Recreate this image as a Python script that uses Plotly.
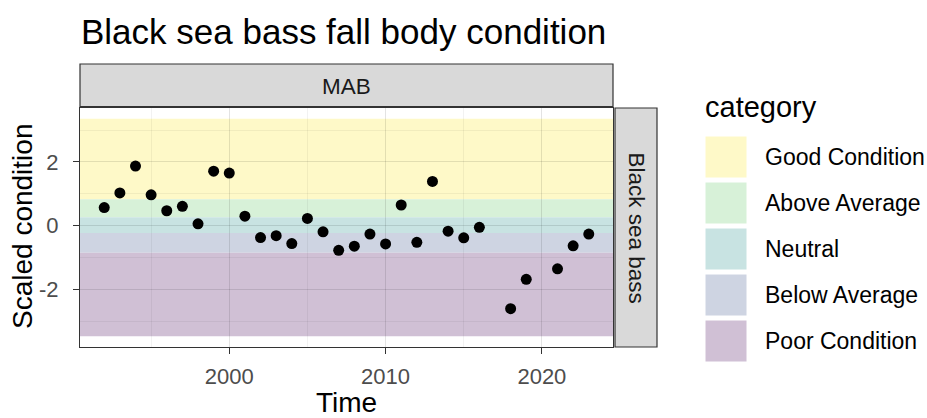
import plotly.graph_objects as go

# ---- data ----
years = [1992, 1993, 1994, 1995, 1996, 1997, 1998, 1999, 2000, 2001, 2002, 2003,
         2004, 2005, 2006, 2007, 2008, 2009, 2010, 2011, 2012, 2013, 2014, 2015,
         2016, 2018, 2019, 2021, 2022, 2023]
condition = [0.57, 1.03, 1.87, 0.97, 0.47, 0.61, 0.06, 1.71, 1.65, 0.30, -0.37, -0.31,
             -0.56, 0.23, -0.19, -0.77, -0.64, -0.26, -0.57, 0.65, -0.52, 1.39, -0.17, -0.38,
             -0.05, -2.60, -1.68, -1.35, -0.63, -0.26]

categories = ["Good Condition", "Above Average", "Neutral", "Below Average", "Poor Condition"]
band_upper = [3.35, 0.83, 0.27, -0.23, -0.85]
band_lower = [0.83, 0.27, -0.23, -0.85, -3.46]
band_colors = ["#FEF9C8", "#D7F1D8", "#C8E3E2", "#CED4E2", "#D0C0D5"]

x_ticks = [2000, 2010, 2020]
y_ticks = [-2, 0, 2]

# ---- layout geometry (pixels) ----
W, H = 927, 418
PL, PR, PT, PB = 80, 613, 108, 347  # panel edges


def px(x):
    return (x - PL) / (PR - PL)


def py(y):
    return (PB - y) / (PB - PT)


FONT = "Liberation Sans, Arial, Helvetica, sans-serif"

fig = go.Figure()
fig.add_trace(go.Scatter(
    x=years, y=condition, mode="markers",
    marker=dict(color="black", size=11),
    showlegend=False, hoverinfo="x+y"))

shapes = []
# condition bands across the panel
for lo, hi, c in zip(band_lower, band_upper, band_colors):
    shapes.append(dict(type="rect", xref="x domain", yref="y", x0=0, x1=1, y0=lo, y1=hi,
                       fillcolor=c, line=dict(width=0), layer="below"))

# strips
shapes.append(dict(type="rect", xref="paper", yref="paper", x0=0, x1=1,
                   y0=py(106.5), y1=py(64), fillcolor="#D9D9D9",
                   line=dict(color="#333333", width=1.2), layer="above"))
shapes.append(dict(type="rect", xref="paper", yref="paper", x0=px(615), x1=px(657),
                   y0=0, y1=1, fillcolor="#D9D9D9",
                   line=dict(color="#333333", width=1.2), layer="above"))

annotations = [
    dict(text="Black sea bass fall body condition", xref="paper", yref="paper",
         x=px(79), y=py(31), xanchor="left", yanchor="middle", showarrow=False,
         font=dict(size=35, color="black", family=FONT)),
    dict(text="MAB", xref="paper", yref="paper", x=0.5, y=py(86), xanchor="center",
         yanchor="middle", showarrow=False, font=dict(size=22.5, color="#1A1A1A", family=FONT)),
    dict(text="Black sea bass", xref="paper", yref="paper", x=px(636), y=0.5,
         xanchor="center", yanchor="middle", textangle=90, showarrow=False,
         font=dict(size=22.5, color="#1A1A1A", family=FONT)),
    dict(text="Time", xref="paper", yref="paper", x=0.5, y=py(402), xanchor="center",
         yanchor="middle", showarrow=False, font=dict(size=28, color="black", family=FONT)),
    dict(text="Scaled condition", xref="paper", yref="paper", x=px(22), y=py(227),
         xanchor="center", yanchor="middle", textangle=-90, showarrow=False,
         font=dict(size=28, color="black", family=FONT)),
    dict(text="category", xref="paper", yref="paper", x=px(703), y=py(107), xanchor="left",
         yanchor="middle", showarrow=False, font=dict(size=29, color="black", family=FONT)),
]

# manual legend
key_top = 136
key_h = 42
key_step = 46
for i, (cat, col) in enumerate(zip(categories, band_colors)):
    t = key_top + i * key_step
    shapes.append(dict(type="rect", xref="paper", yref="paper", x0=px(705), x1=px(747),
                       y0=py(t + key_h), y1=py(t), fillcolor=col,
                       line=dict(color="white", width=1), layer="above"))
    annotations.append(dict(text=cat, xref="paper", yref="paper", x=px(763),
                            y=py(t + key_h / 2), xanchor="left", yanchor="middle",
                            showarrow=False, font=dict(size=23, color="black", family=FONT)))

fig.update_layout(
    width=W, height=H,
    margin=dict(l=PL, r=W - PR, t=PT, b=H - PB, pad=0),
    plot_bgcolor="rgba(0,0,0,0)", paper_bgcolor="white",
    shapes=shapes, annotations=annotations,
    showlegend=False,
    font=dict(family=FONT),
    xaxis=dict(range=[1990.45, 2024.55], tickvals=x_ticks, ticktext=[str(v) for v in x_ticks],
               showgrid=True, gridcolor="rgba(0,0,0,0.06)", gridwidth=1.1,
               minor=dict(dtick=5, tick0=2000, showgrid=True, gridcolor="rgba(0,0,0,0.05)", gridwidth=0.6),
               ticks="outside", ticklen=6, tickcolor="#333333", tickwidth=1,
               tickfont=dict(size=22, color="#4D4D4D", family=FONT), ticklabelstandoff=3,
               showline=True, mirror=True, linecolor="#333333", linewidth=1.2,
               zeroline=False),
    yaxis=dict(range=[-3.8, 3.69], tickvals=y_ticks, ticktext=[str(v) for v in y_ticks],
               showgrid=True, gridcolor="rgba(0,0,0,0.06)", gridwidth=1.1,
               minor=dict(dtick=1, tick0=0, showgrid=True, gridcolor="rgba(0,0,0,0.05)", gridwidth=0.6),
               ticks="outside", ticklen=6, tickcolor="#333333", tickwidth=1,
               tickfont=dict(size=22, color="#4D4D4D", family=FONT), ticklabelstandoff=10,
               showline=True, mirror=True, linecolor="#333333", linewidth=1.2,
               zeroline=False),
)

fig.write_html("out.html", config={"displayModeBar": False},
               post_script="document.body.style.margin='0';document.body.style.overflow='hidden';")
